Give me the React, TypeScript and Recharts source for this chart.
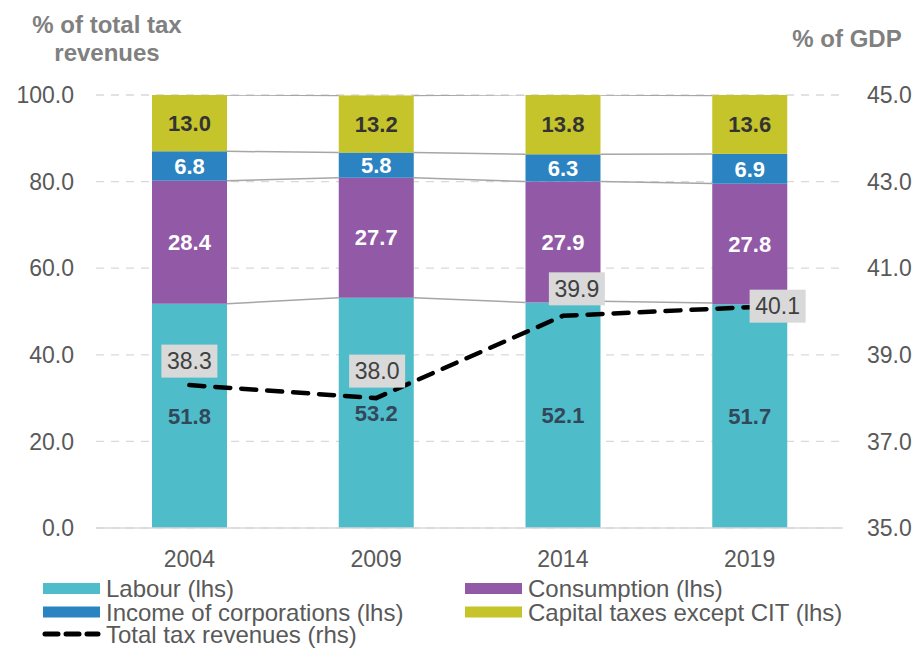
import React from 'react';
import { ComposedChart, Bar, Line, XAxis, YAxis, CartesianGrid, LabelList } from 'recharts';

// ---- data ----
const years = ['2004', '2009', '2014', '2019'];
const labour = [51.8, 53.2, 52.1, 51.7];
const consumption = [28.4, 27.7, 27.9, 27.8];
const corporations = [6.8, 5.8, 6.3, 6.9];
const capital = [13.0, 13.2, 13.8, 13.6];
const totalRevenues = [38.3, 38.0, 39.9, 40.1];
const leftTicks = [0, 20, 40, 60, 80, 100];
const rightTicks = [35, 37, 39, 41, 43, 45];

const data = years.map((year, i) => ({
  year,
  labour: labour[i],
  consumption: consumption[i],
  corporations: corporations[i],
  capital: capital[i],
  total: totalRevenues[i],
}));

// ---- layout / style ----
const CHART_W = 917;
const CHART_H = 582;
const LEFT_W = 96;
const RIGHT_W = 74;
const TOP = 95;
const X_AXIS_H = 54;
const STEP = (CHART_W - LEFT_W - RIGHT_W) / years.length;

const COLORS = {
  labour: '#4FBDC9',
  consumption: '#9159A6',
  corporations: '#2B83C1',
  capital: '#C5C42B',
};
const FONT = '"Liberation Sans", Arial, sans-serif';
const labelOffsets = [
  { dx: 0, dy: -24 },
  { dx: 1, dy: -27 },
  { dx: 14, dy: -27 },
  { dx: 28, dy: -1 },
];

const fmt = (v: any) => Number(v).toFixed(1);

// Capital bar shape also draws grey series lines linking stack boundaries to the next bar
const CapitalShape = (props: any) => {
  const { x, y, width, height, fill } = props;
  let i = props.index;
  if (i === undefined || i === null) i = years.indexOf(props.payload?.year);
  const below = labour[i] + consumption[i] + corporations[i];
  const ppu = height / capital[i];
  const zero = y + height + below * ppu;
  const cum = (k: number) => [
    labour[k],
    labour[k] + consumption[k],
    labour[k] + consumption[k] + corporations[k],
    labour[k] + consumption[k] + corporations[k] + capital[k],
  ];
  const lines: any[] = [];
  if (i < years.length - 1) {
    const a = cum(i);
    const b = cum(i + 1);
    for (let j = 0; j < 4; j++) {
      lines.push(
        <line
          key={j}
          x1={x + width}
          y1={zero - a[j] * ppu}
          x2={x + STEP}
          y2={zero - b[j] * ppu}
          stroke="#a6a6a6"
          strokeWidth={1.5}
        />
      );
    }
  }
  return (
    <g>
      <rect x={x} y={y} width={width} height={height} fill={fill} />
      {lines}
    </g>
  );
};

const TotalLabel = (p: any) => {
  const { x, y, value, index } = p;
  const o = labelOffsets[index] || { dx: 0, dy: -26 };
  const cx = x + o.dx;
  const cy = y + o.dy;
  return (
    <g>
      <rect x={cx - 28} y={cy - 16.5} width={56} height={33} fill="#d9d9d9" />
      <text x={cx} y={cy + 8} textAnchor="middle" fontSize={23} fill="#404040" fontFamily={FONT}>
        {fmt(value)}
      </text>
    </g>
  );
};

const barLabel = (fill: string) => ({
  position: 'center' as const,
  fill,
  fontSize: 22,
  fontWeight: 'bold' as const,
  fontFamily: FONT,
  formatter: fmt,
});

const legendRows = [
  { x: 43, text: 'Labour (lhs)', color: COLORS.labour, cy: 588.5 },
  { x: 465, text: 'Consumption (lhs)', color: COLORS.consumption, cy: 588.5 },
  { x: 43, text: 'Income of corporations (lhs)', color: COLORS.corporations, cy: 612 },
  { x: 465, text: 'Capital taxes except CIT (lhs)', color: COLORS.capital, cy: 612 },
];

export default function App() {
  return (
    <div
      style={{
        position: 'absolute',
        left: 0,
        top: 0,
        width: 917,
        height: 648,
        background: '#fff',
        fontFamily: FONT,
      }}
    >
      <ComposedChart
        width={CHART_W}
        height={CHART_H}
        data={data}
        margin={{ top: TOP, right: 0, bottom: 0, left: 0 }}
        barSize={75}
      >
        <CartesianGrid
          yAxisId="left"
          vertical={false}
          stroke="#d9d9d9"
          strokeDasharray="8 7"
          strokeWidth={1.3}
        />
        <XAxis
          dataKey="year"
          height={X_AXIS_H}
          axisLine={{ stroke: '#d9d9d9', strokeWidth: 1.5 }}
          tickLine={false}
          tickSize={0}
          tickMargin={23}
          tick={{ fill: '#595959', fontSize: 23, fontFamily: FONT }}
        />
        <YAxis
          yAxisId="left"
          width={LEFT_W}
          domain={[0, 100]}
          allowDataOverflow
          ticks={leftTicks}
          tickFormatter={fmt}
          axisLine={false}
          tickLine={false}
          tickSize={0}
          tickMargin={22}
          tick={{ fill: '#595959', fontSize: 23, fontFamily: FONT }}
        />
        <YAxis
          yAxisId="right"
          orientation="right"
          width={RIGHT_W}
          domain={[35, 45]}
          allowDataOverflow
          ticks={rightTicks}
          tickFormatter={fmt}
          axisLine={false}
          tickLine={false}
          tickSize={0}
          tickMargin={24}
          tick={{ fill: '#595959', fontSize: 23, fontFamily: FONT, textAnchor: 'start' }}
        />
        <Bar yAxisId="left" dataKey="labour" stackId="a" fill={COLORS.labour} isAnimationActive={false}>
          <LabelList dataKey="labour" {...barLabel('#33475b')} />
        </Bar>
        <Bar yAxisId="left" dataKey="consumption" stackId="a" fill={COLORS.consumption} isAnimationActive={false}>
          <LabelList dataKey="consumption" {...barLabel('#ffffff')} />
        </Bar>
        <Bar yAxisId="left" dataKey="corporations" stackId="a" fill={COLORS.corporations} isAnimationActive={false}>
          <LabelList dataKey="corporations" {...barLabel('#ffffff')} />
        </Bar>
        <Bar
          yAxisId="left"
          dataKey="capital"
          stackId="a"
          fill={COLORS.capital}
          shape={CapitalShape}
          isAnimationActive={false}
        >
          <LabelList dataKey="capital" {...barLabel('#333333')} />
        </Bar>
        <Line
          yAxisId="right"
          dataKey="total"
          type="linear"
          stroke="#000000"
          strokeWidth={4.5}
          strokeDasharray="15 11"
          strokeLinecap="round"
          dot={false}
          activeDot={false}
          isAnimationActive={false}
        >
          <LabelList dataKey="total" content={TotalLabel} />
        </Line>
      </ComposedChart>
      <svg
        width={917}
        height={648}
        style={{ position: 'absolute', left: 0, top: 0, pointerEvents: 'none' }}
      >
        <text x={107} y={33} textAnchor="middle" fontSize={24} fontWeight="bold" fill="#808080" fontFamily={FONT}>
          % of total tax
        </text>
        <text x={107} y={61} textAnchor="middle" fontSize={24} fontWeight="bold" fill="#808080" fontFamily={FONT}>
          revenues
        </text>
        <text x={847} y={47} textAnchor="middle" fontSize={24} fontWeight="bold" fill="#808080" fontFamily={FONT}>
          % of GDP
        </text>
        {legendRows.map((r) => (
          <g key={r.text}>
            <rect x={r.x} y={r.cy - 5.5} width={57} height={11} fill={r.color} />
            <text x={r.x + 63} y={r.cy + 8.5} fontSize={24} fill="#595959" fontFamily={FONT}>
              {r.text}
            </text>
          </g>
        ))}
        <line x1={45} y1={634} x2={98} y2={634} stroke="#000" strokeWidth={5} strokeDasharray="13 8" strokeLinecap="round" />
        <text x={106} y={642.5} fontSize={24} fill="#595959" fontFamily={FONT}>
          Total tax revenues (rhs)
        </text>
      </svg>
    </div>
  );
}
